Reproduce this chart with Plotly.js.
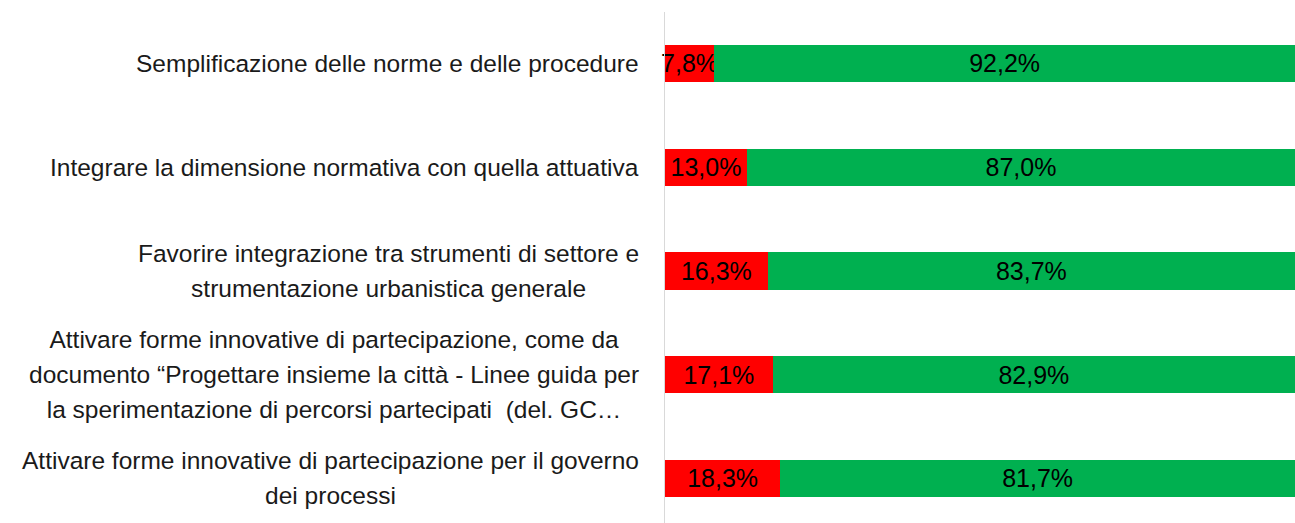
<!DOCTYPE html>
<html>
<head>
<meta charset="utf-8">
<script src="https://cdn.plot.ly/plotly-3.0.1.min.js"></script>
<style>html,body{margin:0;padding:0;background:#fff;}#chart{width:1295px;height:523px;}</style>
</head>
<body>
<div id="chart"></div>
<script>
const categories = [
  "Semplificazione delle norme e delle procedure",
  "Integrare la dimensione normativa con quella attuativa",
  "Favorire integrazione tra strumenti di settore e<br>strumentazione urbanistica generale",
  "Attivare forme innovative di partecipazione, come da<br>documento \u201cProgettare insieme la citt\u00e0 - Linee guida per<br>la sperimentazione di percorsi partecipati  (del. GC\u2026",
  "Attivare forme innovative di partecipazione per il governo<br>dei processi"
];
const redValues = [7.8, 13.0, 16.3, 17.1, 18.3];
const greenValues = [92.2, 87.0, 83.7, 82.9, 81.7];

const idx = categories.map((c, i) => i);
const fmt = v => v.toFixed(1).replace('.', ',') + '%';
const labelFont = {family: 'Liberation Sans, Arial, sans-serif', size: 27, color: '#1a1a1a'};
const valueFont = {family: 'Liberation Sans, Arial, sans-serif', size: 25, color: '#000000'};

const common = {
  type: 'bar', orientation: 'h', y: idx,
  textposition: 'inside', insidetextanchor: 'middle', constraintext: 'none',
  textangle: 0, textfont: valueFont, insidetextfont: valueFont,
  hoverinfo: 'skip', cliponaxis: false
};
const traces = [
  Object.assign({}, common, {x: redValues, text: redValues.map(fmt), marker: {color: '#FF0000'}, name: 'No'}),
  Object.assign({}, common, {x: greenValues, text: greenValues.map(fmt), marker: {color: '#00B050'}, name: 'Sì'})
];

const annotations = categories.map((c, i) => ({
  x: 0, xref: 'paper', y: i, yref: 'y',
  text: '<span style="font-size:24.5px">' + c.split('<br>').join('</span><br><span style="font-size:24.5px">') + '</span>',
  showarrow: false,
  xanchor: 'right', yanchor: 'middle', align: 'center', xshift: -24,
  font: labelFont
}));

const layout = {
  width: 1295, height: 523,
  margin: {l: 665, r: 0, t: 12, b: 0},
  barmode: 'stack', bargap: 0.643,
  showlegend: false,
  paper_bgcolor: '#ffffff', plot_bgcolor: '#ffffff',
  xaxis: {range: [0, 100], showgrid: false, zeroline: false, showticklabels: false, showline: false, fixedrange: true},
  yaxis: {range: [4.429, -0.496], showgrid: false, zeroline: false, showticklabels: false,
          showline: true, linecolor: '#D9D9D9', linewidth: 1, ticks: '', fixedrange: true},
  annotations: annotations
};

Plotly.newPlot('chart', traces, layout, {displayModeBar: false, staticPlot: true});
</script>
</body>
</html>
